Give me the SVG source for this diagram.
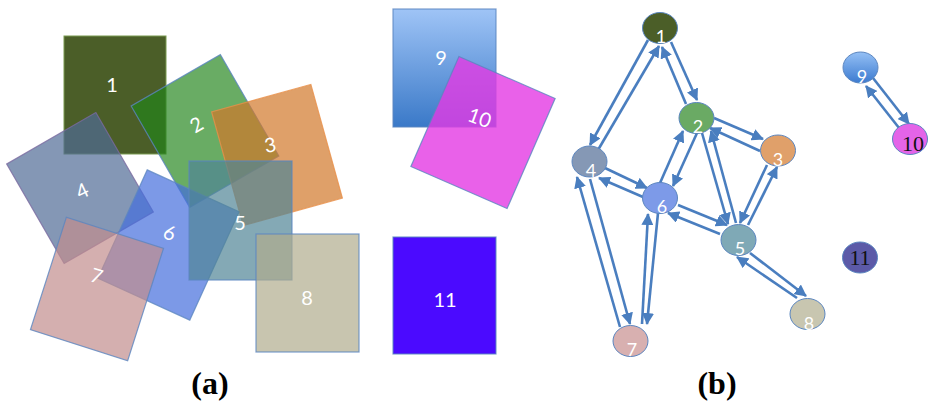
<svg xmlns="http://www.w3.org/2000/svg" width="930" height="405" viewBox="0 0 930 405">
<defs>
<style>
.r{stroke:#5b86c0;stroke-width:1.2;stroke-opacity:0.8}
.rl{fill:#fff;font-family:Lato,"Open Sans",sans-serif;font-size:20px;text-anchor:middle;dominant-baseline:central}
.n{stroke:#5b86c0;stroke-width:1}
.nl{fill:#fff;font-family:Lato,"Open Sans",sans-serif;font-size:18px;text-anchor:middle}
.nb{fill:#111;font-family:"Liberation Serif","Times New Roman",serif;font-size:22px;text-anchor:middle}
.e{stroke:#4a7ebf;stroke-width:2.6;fill:none;marker-end:url(#ah)}
.cap{font-family:"Liberation Serif","Times New Roman",serif;font-weight:bold;font-size:32px;text-anchor:middle;fill:#000}
</style>
<marker id="ah" markerUnits="userSpaceOnUse" markerWidth="12" markerHeight="12" refX="11" refY="6" orient="auto" viewBox="0 0 12 12">
<path d="M0,0 L12,6 L0,12 z" fill="#4a7ebf"/>
</marker>
<linearGradient id="g9" x1="0" y1="0" x2="0" y2="1">
<stop offset="0" stop-color="#9fc4f6"/>
<stop offset="1" stop-color="#3a79c8"/>
</linearGradient>
<linearGradient id="gn9" x1="0" y1="0" x2="0" y2="1">
<stop offset="0" stop-color="#95c0f5"/>
<stop offset="1" stop-color="#3c7bd0"/>
</linearGradient>
</defs>
<rect width="930" height="405" fill="#fff"/>

<!-- (a) rectangles -->
<g id="rect-1">
<rect x="64" y="36" width="102" height="118" fill="#4b5e28" stroke="#7a9a50" stroke-width="1"/>
<text class="rl" x="112" y="84">1</text>
</g>
<g id="rect-2">
<rect x="-51.5" y="-58.5" width="103" height="117" transform="translate(205,131) rotate(-30)" fill="#22851a" fill-opacity="0.68" class="r"/>
<text class="rl" x="196" y="124" transform="rotate(-30 196 124)">2</text>
</g>
<g id="rect-3">
<rect x="-51.5" y="-59" width="103" height="118" transform="translate(277,155) rotate(-15.5)" fill="#d27729" fill-opacity="0.7" class="r" style="stroke:#e8904a"/>
<text class="rl" x="270" y="144" transform="rotate(-10 270 144)">3</text>
</g>
<g id="rect-4">
<rect x="-51.5" y="-57.5" width="103" height="115" transform="translate(80,188) rotate(-30)" fill="#506b95" fill-opacity="0.7" class="r" style="stroke:#7a6aa0"/>
<text class="rl" x="82" y="190" transform="rotate(-25 82 190)">4</text>
</g>
<g id="rect-6">
<rect x="-50.5" y="-59.5" width="101" height="119" transform="translate(168.5,245) rotate(24.5)" fill="#456edd" fill-opacity="0.7" class="r"/>
<text class="rl" x="170" y="232" transform="rotate(20 170 232)">6</text>
</g>
<g id="rect-5">
<rect x="189" y="161" width="103" height="119" fill="#508595" fill-opacity="0.7" class="r"/>
<text class="rl" x="240" y="222">5</text>
</g>
<g id="rect-7">
<rect x="-51" y="-59" width="102" height="118" transform="translate(97,289) rotate(17.7)" fill="#c28d8d" fill-opacity="0.7" class="r"/>
<text class="rl" x="97" y="275" transform="rotate(17 97 275)">7</text>
</g>
<g id="rect-8">
<rect x="256" y="234" width="103" height="118" fill="#b0ad8d" fill-opacity="0.7" class="r"/>
<text class="rl" x="307" y="297">8</text>
</g>
<g id="rect-9">
<rect x="393" y="9" width="103" height="118" fill="url(#g9)" class="r"/>
<text class="rl" x="441" y="57">9</text>
</g>
<g id="rect-10">
<rect x="-52.5" y="-60" width="105" height="120" transform="translate(483,132.5) rotate(23.6)" fill="#e33ae3" fill-opacity="0.8" class="r"/>
<text class="rl" x="480" y="117" transform="rotate(20 480 117)">10</text>
</g>
<g id="rect-11">
<rect x="393" y="237" width="103" height="117" fill="#4b0aff" class="r"/>
<text class="rl" x="445" y="299">11</text>
</g>

<!-- (b) connectors -->
<g id="connectors">
<line class="e" x1="648" y1="40" x2="590" y2="145"/>
<line class="e" x1="598" y1="150" x2="659" y2="46"/>
<line class="e" x1="671" y1="42" x2="697" y2="100"/>
<line class="e" x1="686" y1="104" x2="662" y2="47"/>
<line class="e" x1="714" y1="118" x2="763" y2="139"/>
<line class="e" x1="760" y1="151" x2="710" y2="128"/>
<line class="e" x1="702" y1="133" x2="728" y2="224"/>
<line class="e" x1="736" y1="223" x2="711" y2="131"/>
<line class="e" x1="748" y1="225" x2="777" y2="167"/>
<line class="e" x1="767" y1="165" x2="740" y2="223"/>
<line class="e" x1="660" y1="183" x2="683" y2="131"/>
<line class="e" x1="697" y1="133" x2="673" y2="186"/>
<line class="e" x1="605" y1="168" x2="647" y2="188"/>
<line class="e" x1="643" y1="197" x2="599" y2="178"/>
<line class="e" x1="678" y1="205" x2="727" y2="225"/>
<line class="e" x1="720" y1="234" x2="668" y2="213"/>
<line class="e" x1="620" y1="327" x2="577" y2="177"/>
<line class="e" x1="590" y1="179" x2="630" y2="324"/>
<line class="e" x1="642" y1="324" x2="648" y2="214"/>
<line class="e" x1="658" y1="213" x2="647" y2="324"/>
<line class="e" x1="797" y1="298" x2="737" y2="257"/>
<line class="e" x1="750" y1="253" x2="806" y2="296"/>
<line class="e" x1="873" y1="78" x2="909" y2="124"/>
<line class="e" x1="903" y1="133" x2="866" y2="86"/>
</g>

<!-- (b) nodes -->
<g id="node-1"><ellipse class="n" cx="660" cy="28" rx="17.5" ry="15.5" fill="#4b5e28"/><text class="nl" x="661" y="43">1</text></g>
<g id="node-2"><ellipse class="n" cx="696.5" cy="118" rx="17.5" ry="15.5" fill="#6aaa64"/><text class="nl" x="698" y="133">2</text></g>
<g id="node-3"><ellipse class="n" cx="778" cy="150.5" rx="17.5" ry="15.5" fill="#e0a06a"/><text class="nl" x="778" y="166">3</text></g>
<g id="node-4"><ellipse class="n" cx="589.5" cy="161.5" rx="17.5" ry="15.5" fill="#8598b5"/><text class="nl" x="591" y="177">4</text></g>
<g id="node-5"><ellipse class="n" cx="738.5" cy="240" rx="17.5" ry="15.5" fill="#7fa9b6"/><text class="nl" x="740" y="255">5</text></g>
<g id="node-6"><ellipse class="n" cx="660" cy="198" rx="17.5" ry="15.5" fill="#7d9ae8"/><text class="nl" x="662" y="213">6</text></g>
<g id="node-7"><ellipse class="n" cx="630.5" cy="341" rx="17.5" ry="15.5" fill="#d8b0b0"/><text class="nl" x="632" y="356">7</text></g>
<g id="node-8"><ellipse class="n" cx="807.5" cy="314" rx="17.5" ry="15.5" fill="#c8c6b0"/><text class="nl" x="809" y="330">8</text></g>
<g id="node-9"><ellipse class="n" cx="860.5" cy="67.5" rx="17.5" ry="15.5" fill="url(#gn9)"/><text class="nl" x="862" y="83">9</text></g>
<g id="node-10"><ellipse class="n" cx="910" cy="139" rx="17.5" ry="15.5" fill="#e464e8"/><text class="nb" x="913" y="151">10</text></g>
<g id="node-11"><ellipse class="n" cx="860" cy="257.5" rx="17.5" ry="15.5" fill="#5c5aa8"/><text class="nb" x="860" y="265">11</text></g>

<text class="cap" x="210" y="394">(a)</text>
<text class="cap" x="717" y="394">(b)</text>
</svg>
